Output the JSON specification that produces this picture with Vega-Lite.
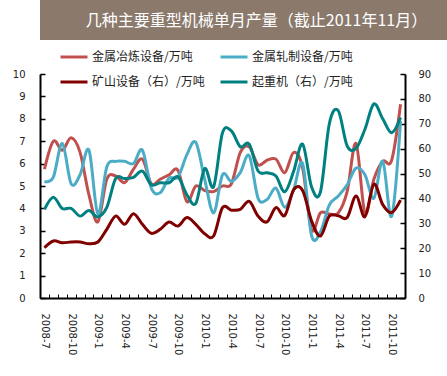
{
  "$schema": "https://vega.github.io/schema/vega-lite/v6.json",
  "background": "white",
  "padding": 0,
  "spacing": 29,
  "config": {"view": {"stroke": null}, "font": "DejaVu Sans"},
  "vconcat": [
    {
      "width": 447,
      "height": 40,
      "view": {"fill": "#8b7a6c", "stroke": null},
      "data": {"values": [{"t": "几种主要重型机械单月产量（截止2011年11月）"}]},
      "mark": {"type": "text", "font": "Noto Sans CJK SC", "fontSize": 16, "color": "white", "dx": -7, "dy": 1},
      "encoding": {"text": {"field": "t", "type": "nominal"}}
    },
    {
      "width": 365,
      "height": 224,
      "data": {
        "values": [
          {"m": "2008-7", "金属冶炼设备/万吨": 5.75, "金属轧制设备/万吨": 5.2, "矿山设备（右）/万吨": 20.2, "起重机（右）/万吨": 35.6},
          {"m": "2008-8", "金属冶炼设备/万吨": 7.0, "金属轧制设备/万吨": 5.4, "矿山设备（右）/万吨": 22.9, "起重机（右）/万吨": 40.5},
          {"m": "2008-9", "金属冶炼设备/万吨": 6.6, "金属轧制设备/万吨": 6.9, "矿山设备（右）/万吨": 22.2, "起重机（右）/万吨": 36},
          {"m": "2008-10", "金属冶炼设备/万吨": 7.15, "金属轧制设备/万吨": 5.1, "矿山设备（右）/万吨": 22.5, "起重机（右）/万吨": 36},
          {"m": "2008-11", "金属冶炼设备/万吨": 6.5, "金属轧制设备/万吨": 5.5, "矿山设备（右）/万吨": 22.5, "起重机（右）/万吨": 32.9},
          {"m": "2008-12", "金属冶炼设备/万吨": 4.6, "金属轧制设备/万吨": 6.6, "矿山设备（右）/万吨": 21.8, "起重机（右）/万吨": 35.2},
          {"m": "2009-1", "金属冶炼设备/万吨": 3.4, "金属轧制设备/万吨": 3.75, "矿山设备（右）/万吨": 22.5, "起重机（右）/万吨": 32.6},
          {"m": "2009-2", "金属冶炼设备/万吨": 5.3, "金属轧制设备/万吨": 5.85, "矿山设备（右）/万吨": 27.6, "起重机（右）/万吨": 36.4},
          {"m": "2009-3", "金属冶炼设备/万吨": 5.45, "金属轧制设备/万吨": 6.1, "矿山设备（右）/万吨": 32.9, "起重机（右）/万吨": 48},
          {"m": "2009-4", "金属冶炼设备/万吨": 5.15, "金属轧制设备/万吨": 6.1, "矿山设备（右）/万吨": 29.6, "起重机（右）/万吨": 48},
          {"m": "2009-5", "金属冶炼设备/万吨": 5.75, "金属轧制设备/万吨": 6.0, "矿山设备（右）/万吨": 33.9, "起重机（右）/万吨": 48.5},
          {"m": "2009-6", "金属冶炼设备/万吨": 6.2, "金属轧制设备/万吨": 6.6, "矿山设备（右）/万吨": 29.6, "起重机（右）/万吨": 51},
          {"m": "2009-7", "金属冶炼设备/万吨": 5.1, "金属轧制设备/万吨": 4.9, "矿山设备（右）/万吨": 26, "起重机（右）/万吨": 45.5},
          {"m": "2009-8", "金属冶炼设备/万吨": 5.3, "金属轧制设备/万吨": 4.7, "矿山设备（右）/万吨": 27.6, "起重机（右）/万吨": 46.3},
          {"m": "2009-9", "金属冶炼设备/万吨": 5.5, "金属轧制设备/万吨": 5.35, "矿山设备（右）/万吨": 30.5, "起重机（右）/万吨": 46.3},
          {"m": "2009-10", "金属冶炼设备/万吨": 5.7, "金属轧制设备/万吨": 5.4, "矿山设备（右）/万吨": 28.9, "起重机（右）/万吨": 48.7},
          {"m": "2009-11", "金属冶炼设备/万吨": 4.3, "金属轧制设备/万吨": 6.4, "矿山设备（右）/万吨": 32.3, "起重机（右）/万吨": 41.5},
          {"m": "2009-12", "金属冶炼设备/万吨": 5.0, "金属轧制设备/万吨": 6.95, "矿山设备（右）/万吨": 29.6, "起重机（右）/万吨": 38},
          {"m": "2010-1", "金属冶炼设备/万吨": 4.8, "金属轧制设备/万吨": 5.3, "矿山设备（右）/万吨": 25.8, "起重机（右）/万吨": 52},
          {"m": "2010-2", "金属冶炼设备/万吨": 4.75, "金属轧制设备/万吨": 3.8, "矿山设备（右）/万吨": 24.9, "起重机（右）/万吨": 44.7},
          {"m": "2010-3", "金属冶炼设备/万吨": 5.0, "金属轧制设备/万吨": 5.5, "矿山设备（右）/万吨": 36.3, "起重机（右）/万吨": 66.4},
          {"m": "2010-4", "金属冶炼设备/万吨": 5.1, "金属轧制设备/万吨": 5.2, "矿山设备（右）/万吨": 35.3, "起重机（右）/万吨": 67.1},
          {"m": "2010-5", "金属冶炼设备/万吨": 6.5, "金属轧制设备/万吨": 5.6, "矿山设备（右）/万吨": 35.6, "起重机（右）/万吨": 60.8},
          {"m": "2010-6", "金属冶炼设备/万吨": 6.75, "金属轧制设备/万吨": 6.35, "矿山设备（右）/万吨": 38.8, "起重机（右）/万吨": 61.8},
          {"m": "2010-7", "金属冶炼设备/万吨": 5.95, "金属轧制设备/万吨": 4.45, "矿山设备（右）/万吨": 32.9, "起重机（右）/万吨": 51},
          {"m": "2010-8", "金属冶炼设备/万吨": 6.15, "金属轧制设备/万吨": 4.4, "矿山设备（右）/万吨": 30.6, "起重机（右）/万吨": 50.3},
          {"m": "2010-9", "金属冶炼设备/万吨": 6.2, "金属轧制设备/万吨": 4.9, "矿山设备（右）/万吨": 36.3, "起重机（右）/万吨": 49},
          {"m": "2010-10", "金属冶炼设备/万吨": 5.6, "金属轧制设备/万吨": 4.05, "矿山设备（右）/万吨": 33.2, "起重机（右）/万吨": 42.7},
          {"m": "2010-11", "金属冶炼设备/万吨": 6.5, "金属轧制设备/万吨": 4.85, "矿山设备（右）/万吨": 43.5, "起重机（右）/万吨": 51},
          {"m": "2010-12", "金属冶炼设备/万吨": 5.8, "金属轧制设备/万吨": 6.0, "矿山设备（右）/万吨": 43.2, "起重机（右）/万吨": 61.8},
          {"m": "2011-1", "金属冶炼设备/万吨": 3.05, "金属轧制设备/万吨": 2.8, "矿山设备（右）/万吨": 31, "起重机（右）/万吨": 44.7},
          {"m": "2011-2", "金属冶炼设备/万吨": 3.8, "金属轧制设备/万吨": 2.95, "矿山设备（右）/万吨": 24.9, "起重机（右）/万吨": 42.6},
          {"m": "2011-3", "金属冶炼设备/万吨": 3.75, "金属轧制设备/万吨": 4.15, "矿山设备（右）/万吨": 32.9, "起重机（右）/万吨": 70},
          {"m": "2011-4", "金属冶炼设备/万吨": 3.8, "金属轧制设备/万吨": 4.55, "矿山设备（右）/万吨": 33, "起重机（右）/万吨": 75.3},
          {"m": "2011-5", "金属冶炼设备/万吨": 4.75, "金属轧制设备/万吨": 5.05, "矿山设备（右）/万吨": 32.3, "起重机（右）/万吨": 61.1},
          {"m": "2011-6", "金属冶炼设备/万吨": 6.9, "金属轧制设备/万吨": 5.8, "矿山设备（右）/万吨": 41, "起重机（右）/万吨": 60.1},
          {"m": "2011-7", "金属冶炼设备/万吨": 3.8, "金属轧制设备/万吨": 5.5, "矿山设备（右）/万吨": 32.6, "起重机（右）/万吨": 67.8},
          {"m": "2011-8", "金属冶炼设备/万吨": 5.3, "金属轧制设备/万吨": 4.45, "矿山设备（右）/万吨": 45.7, "起重机（右）/万吨": 78},
          {"m": "2011-9", "金属冶炼设备/万吨": 6.1, "金属轧制设备/万吨": 6.1, "矿山设备（右）/万吨": 37.5, "起重机（右）/万吨": 72},
          {"m": "2011-10", "金属冶炼设备/万吨": 6.15, "金属轧制设备/万吨": 3.65, "矿山设备（右）/万吨": 34.3, "起重机（右）/万吨": 66.4},
          {"m": "2011-11", "金属冶炼设备/万吨": 8.65, "金属轧制设备/万吨": 7.9, "矿山设备（右）/万吨": 39.3, "起重机（右）/万吨": 72.5}
        ]
      },
      "layer": [
        {
          "transform": [{"fold": ["金属冶炼设备/万吨", "金属轧制设备/万吨"], "as": ["s", "v"]}],
          "mark": {"type": "line", "interpolate": "cardinal", "strokeWidth": 3},
          "encoding": {
            "x": {
              "field": "m", "type": "ordinal", "sort": null,
              "scale": {"type": "band", "paddingInner": 0, "paddingOuter": 0},
              "axis": {
                "title": null, "labelAngle": 90, "labelOverlap": false,
                "labelExpr": "(toNumber(split(datum.value, '-')[1]) - 1) % 3 == 0 ? datum.value : ''",
                "tickBand": "extent", "tickSize": -4, "tickColor": "black", "tickWidth": 1,
                "domainColor": "black", "domainWidth": 2, "labelPadding": 19,
                "labelFontSize": 10, "labelColor": "#222", "labelFont": "DejaVu Sans"
              }
            },
            "y": {
              "field": "v", "type": "quantitative",
              "scale": {"domain": [0, 10]},
              "axis": {
                "title": null, "values": [0, 1, 2, 3, 4, 5, 6, 7, 8, 9, 10], "grid": false,
                "tickSize": -5, "tickColor": "black", "tickWidth": 1.5, "domainColor": "black", "domainWidth": 2,
                "labelPadding": 20, "labelFontSize": 10, "labelColor": "#222", "labelFont": "DejaVu Sans", "minExtent": 40
              }
            },
            "color": {
              "field": "s", "type": "nominal",
              "scale": {
                "domain": ["金属冶炼设备/万吨", "矿山设备（右）/万吨", "金属轧制设备/万吨", "起重机（右）/万吨"],
                "range": ["#c0504d", "#800000", "#4bacc6", "#008080"]
              },
              "legend": {
                "title": null, "orient": "none", "legendX": 19, "legendY": 42, "columns": 2,
                "symbolType": "stroke", "symbolStrokeWidth": 3, "symbolSize": 729,
                "labelFont": "Noto Sans CJK SC", "labelFontSize": 12, "labelColor": "#222",
                "labelOffset": 3, "columnPadding": 9, "rowPadding": 4, "padding": 0
              }
            }
          }
        },
        {
          "transform": [{"fold": ["矿山设备（右）/万吨", "起重机（右）/万吨"], "as": ["s", "v"]}],
          "mark": {"type": "line", "interpolate": "cardinal", "strokeWidth": 3},
          "encoding": {
            "x": {"field": "m", "type": "ordinal", "sort": null},
            "y": {
              "field": "v", "type": "quantitative",
              "scale": {"domain": [0, 90]},
              "axis": {
                "title": null, "orient": "right", "values": [0, 10, 20, 30, 40, 50, 60, 70, 80, 90], "grid": false,
                "tickSize": -5, "tickColor": "black", "tickWidth": 1.5, "domainColor": "black", "domainWidth": 2,
                "labelPadding": 18, "labelFontSize": 10, "labelColor": "#222", "labelFont": "DejaVu Sans"
              }
            },
            "color": {
              "field": "s", "type": "nominal",
              "scale": {
                "domain": ["金属冶炼设备/万吨", "矿山设备（右）/万吨", "金属轧制设备/万吨", "起重机（右）/万吨"],
                "range": ["#c0504d", "#800000", "#4bacc6", "#008080"]
              }
            }
          }
        }
      ],
      "resolve": {"scale": {"y": "independent"}}
    }
  ]
}
